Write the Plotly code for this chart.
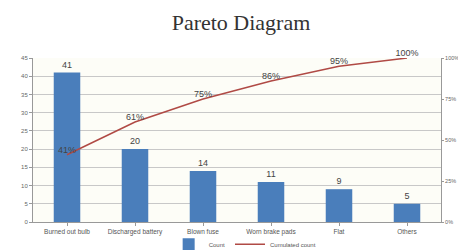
import plotly.graph_objects as go

categories = ["Burned out bulb", "Discharged battery", "Blown fuse", "Worn brake pads", "Flat", "Others"]
counts = [41, 20, 14, 11, 9, 5]
cumulative_pct = [41, 61, 75, 86, 95, 100]
left_ticks = [0, 5, 10, 15, 20, 25, 30, 35, 40, 45]
right_ticks = [0, 25, 50, 75, 100]
right_tick_labels = ["0%", "25%", "50%", "75%", "100%"]

fig = go.Figure()
fig.add_trace(go.Bar(
    x=categories, y=counts, name="Count",
    marker=dict(color="#4a7ebb", line=dict(width=0)),
    text=[str(c) for c in counts], textposition="outside",
    textfont=dict(size=9, color="#444444", family="Liberation Sans"),
    cliponaxis=False,
))
fig.add_trace(go.Scatter(
    x=categories, y=cumulative_pct, name="Cumulated count", yaxis="y2",
    mode="lines+text", line=dict(color="#b04a45", width=1.5),
    text=[f"{v}%" for v in cumulative_pct], textposition="top center",
    textfont=dict(size=9, color="#444444", family="Liberation Sans"),
    cliponaxis=False,
))

fig.update_layout(
    width=466, height=250,
    margin=dict(l=25, r=33, t=50, b=36, autoexpand=False),
    paper_bgcolor="white", plot_bgcolor="#fdfdf7",
    title=dict(text="Pareto Diagram", x=0.5, xanchor="center", y=0.975, yanchor="top",
               font=dict(family="Liberation Serif", size=22, color="#333333")),
    bargap=0.61,
    showlegend=True,
    legend=dict(orientation="h", x=0.52, xanchor="center", y=0.055, yanchor="middle",
                yref="container",
                font=dict(size=6, color="#555555", family="Liberation Sans"),
                itemwidth=30, bgcolor="rgba(0,0,0,0)"),
    xaxis=dict(range=[-0.5, 5.5], showline=True, linecolor="#999999", linewidth=1,
               ticks="outside", ticklen=3, tickcolor="#999999",
               tickfont=dict(size=6.5, color="#555555", family="Liberation Sans"),
               showgrid=False),
    yaxis=dict(range=[0, 45], tickvals=left_ticks, showline=True, linecolor="#999999",
               ticks="outside", ticklen=3, tickcolor="#999999",
               tickfont=dict(size=6, color="#666666", family="Liberation Sans"),
               gridcolor="#c8c8c8", gridwidth=1, zeroline=False),
    yaxis2=dict(range=[0, 100], tickvals=right_ticks, ticktext=right_tick_labels,
                overlaying="y", side="right", showline=True, linecolor="#999999",
                ticks="outside", ticklen=2, tickcolor="#999999",
                tickfont=dict(size=5.5, color="#666666", family="Liberation Sans"),
                showgrid=False, zeroline=False),
)

fig.write_html("out.html")
